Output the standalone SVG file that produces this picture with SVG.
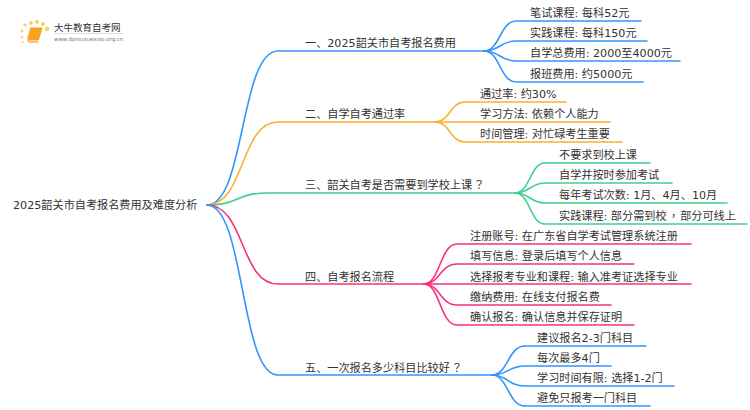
<svg xmlns="http://www.w3.org/2000/svg" width="750" height="410" viewBox="0 0 750 410">
<style>
text{font-family:"DejaVu Sans","Noto Sans CJK SC",sans-serif;font-size:11.150px;fill:#333}
tspan{font-family:"Noto Sans CJK TC",sans-serif}
path{fill:none;stroke-width:1.6;stroke-linecap:round}
.b{stroke:#3296fb}.o{stroke:#fbb02d}.g{stroke:#3fcf91}.p{stroke:#f5327f}
.d{fill:#fbcf6a}
</style>
<rect width="750" height="410" fill="#fff"/>
<g id="connectors">
<path class="b" d="M207 205C245 205 240 51 278 51H484"/>
<path class="o" d="M207 205C245 205 240 122 278 122H435"/>
<path class="g" d="M207 205C240 205 235 193 268 193H515"/>
<path class="p" d="M207 205C245 205 240 284 278 284H424"/>
<path class="b" d="M207 205C245 205 240 375 278 375H492"/>
<path class="b" d="M484 51C500 51 500 21 516 21H641"/>
<path class="b" d="M484 51C500 51 500 41 516 41H647"/>
<path class="b" d="M484 51C500 51 500 61 516 61H680"/>
<path class="b" d="M484 51C500 51 500 82 516 82H643"/>
<path class="o" d="M435 122C450 122 450 102 465 102H566"/>
<path class="o" d="M435 122H610"/>
<path class="o" d="M435 122C450 122 450 142 465 142H622"/>
<path class="g" d="M515 193C530 193 530 163 545 163H650"/>
<path class="g" d="M515 193C530 193 530 183 545 183H672"/>
<path class="g" d="M515 193C530 193 530 203 545 203H727"/>
<path class="g" d="M515 193C530 193 530 224 545 224H747"/>
<path class="p" d="M424 284C440 284 440 244 457 244H691"/>
<path class="p" d="M424 284C440 284 440 264 457 264H634"/>
<path class="p" d="M424 284H691"/>
<path class="p" d="M424 284C440 284 440 305 457 305H611"/>
<path class="p" d="M424 284C440 284 440 325 457 325H634"/>
<path class="b" d="M492 375C508 375 508 346 525 346H646"/>
<path class="b" d="M492 375C508 375 508 366 525 366H611"/>
<path class="b" d="M492 375C508 375 508 386 525 386H674"/>
<path class="b" d="M492 375C508 375 508 406 525 406H650"/>
</g>
<g id="logo">
<circle class="d" cx="25" cy="25" r="1.600"/><circle class="d" cx="22" cy="31" r="1.400"/><circle class="d" cx="22" cy="37" r="1.200"/><circle class="d" cx="23" cy="42" r="1"/><circle class="d" cx="31" cy="23" r="2"/><circle class="d" cx="37" cy="22" r="2"/><circle class="d" cx="43" cy="24" r="2"/><circle class="d" cx="47" cy="29" r="2.200"/>
<path d="M31 28H42L38.500 40H29.500L28 39Z" style="fill:#f9a11b;stroke:#f9a11b;stroke-width:1;stroke-linejoin:round"/>
<path d="M28 40.500L29 42H38" style="stroke:#f58a0a;stroke-width:1.200"/>
<text x="54" y="30.500" style="font-size:9.500px">大牛教育自考网</text>
<rect x="54" y="33" width="68" height="1" fill="#ddd"/>
<text x="54" y="41" style="font-size:5.400px;fill:#777">www.daniuxuexiao.org.cn</text>
</g>
<g id="root"><text x="13" y="209">2025韶关市自考报名费用及难度分析</text></g>
<g id="n1"><text x="305" y="47">一、2025韶关市自考报名费用</text></g>
<g id="n1-1"><text x="530" y="17">笔试课程: 每科52元</text></g>
<g id="n1-2"><text x="530" y="37">实践课程: 每科150元</text></g>
<g id="n1-3"><text x="530" y="57">自学总费用: 2000至4000元</text></g>
<g id="n1-4"><text x="530" y="78">报班费用: 约5000元</text></g>
<g id="n2"><text x="305" y="118">二、自学自考通过率</text></g>
<g id="n2-1"><text x="480" y="98">通过率: 约30%</text></g>
<g id="n2-2"><text x="480" y="118">学习方法: 依赖个人能力</text></g>
<g id="n2-3"><text x="480" y="138">时间管理: 对忙碌考生重要</text></g>
<g id="n3"><text x="305" y="189">三、韶关自考是否需要到学校上课<tspan dx="1.500">？</tspan></text></g>
<g id="n3-1"><text x="559" y="159">不要求到校上课</text></g>
<g id="n3-2"><text x="559" y="179">自学并按时参加考试</text></g>
<g id="n3-3"><text x="559" y="199">每年考试次数: 1月、4月、10月</text></g>
<g id="n3-4"><text x="559" y="220">实践课程: 部分需到校<tspan dx="1.500">，</tspan><tspan dx="1" style="font-family:'Noto Sans CJK SC'">部分可线上</tspan></text></g>
<g id="n4"><text x="305" y="281">四、自考报名流程</text></g>
<g id="n4-1"><text x="470" y="240">注册账号: 在广东省自学考试管理系统注册</text></g>
<g id="n4-2"><text x="470" y="260">填写信息: 登录后填写个人信息</text></g>
<g id="n4-3"><text x="470" y="281">选择报考专业和课程: 输入准考证选择专业</text></g>
<g id="n4-4"><text x="470" y="301">缴纳费用: 在线支付报名费</text></g>
<g id="n4-5"><text x="470" y="321">确认报名: 确认信息并保存证明</text></g>
<g id="n5"><text x="305" y="372">五、一次报名多少科目比较好<tspan dx="1.500">？</tspan></text></g>
<g id="n5-1"><text x="537" y="342">建议报名2-3门科目</text></g>
<g id="n5-2"><text x="537" y="362">每次最多4门</text></g>
<g id="n5-3"><text x="537" y="382">学习时间有限: 选择1-2门</text></g>
<g id="n5-4"><text x="537" y="402">避免只报考一门科目</text></g>
</svg>
